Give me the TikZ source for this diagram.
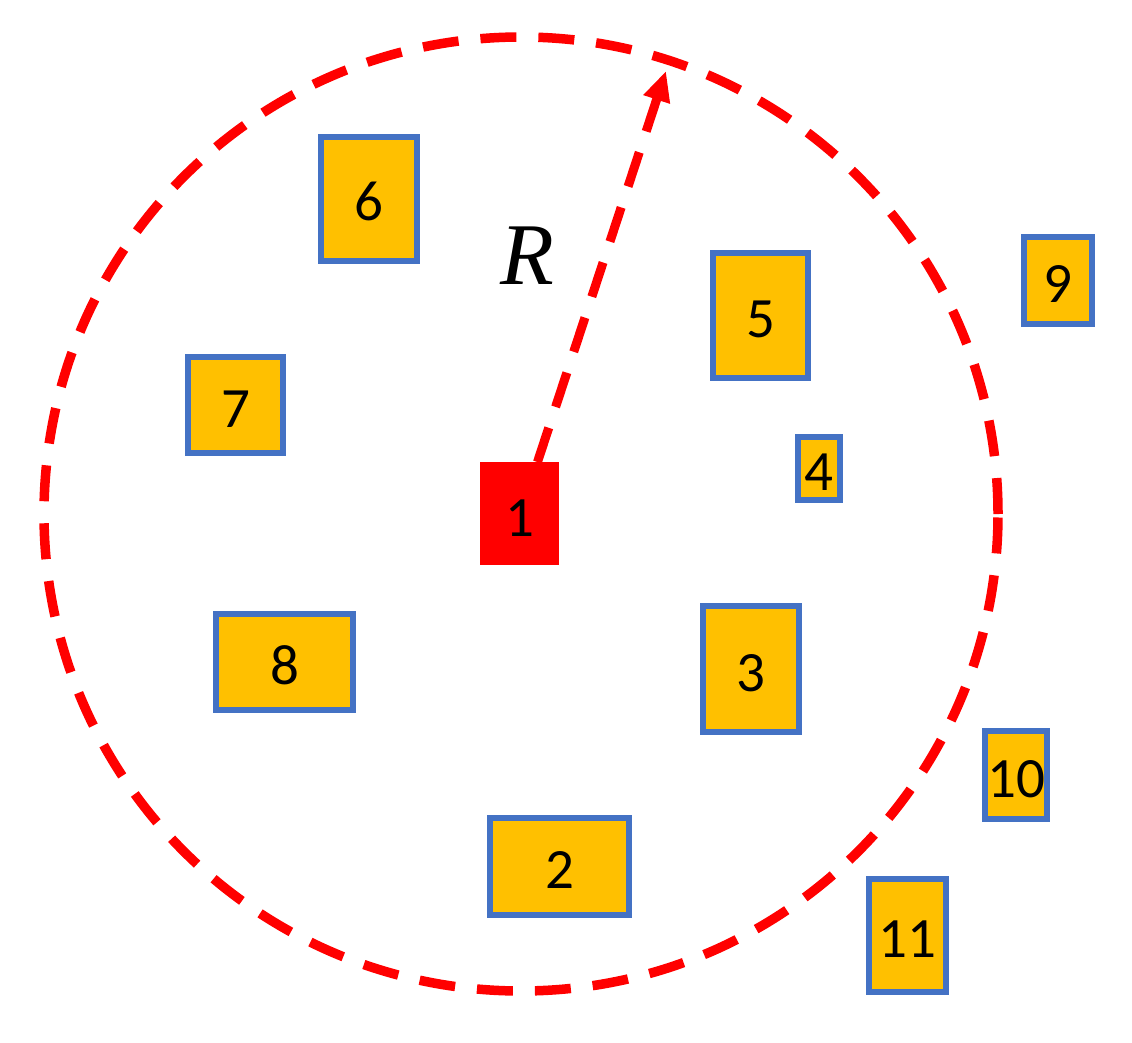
\documentclass[tikz,border=0pt]{standalone}
\usepackage{fontspec}
\setmainfont{Carlito}
\newfontfamily\rfont{Liberation Serif}
\usetikzlibrary{arrows.meta}

\definecolor{boxfill}{HTML}{FFC000}
\definecolor{boxline}{HTML}{4472C4}
\definecolor{hotred}{HTML}{FF0000}

\begin{document}
\begin{tikzpicture}[
    x=1pt, y=-1pt,
    dev/.style={draw=boxline, line width=6pt, fill=boxfill, inner sep=0pt, outer sep=0pt, text height=44pt, text depth=0pt, font=\fontsize{57}{57}\selectfont},
    src/.style={fill=hotred, inner sep=0pt, outer sep=0pt, text height=46pt, text depth=0pt, font=\fontsize{57}{57}\selectfont},
    rng/.style={draw=hotred, line width=9.5pt, dash pattern=on 36pt off 22pt},
    arr/.style={-{Triangle[length=30pt,width=26pt]}, draw=hotred, line width=9pt, dash pattern=on 36pt off 22pt}
]
\useasboundingbox (0,0) rectangle (1132,1043);

% coverage range
\node[rng, circle, minimum size=954pt, inner sep=0pt, outer sep=0pt] (range) at (521,514) {};

% devices
\node[src, minimum width=79pt, minimum height=103pt] (n1) at (519.5,513.5) {1};
\node[dev, minimum width=139pt, minimum height=97pt] (n2) at (559.5,866.5) {2};
\node[dev, minimum width=96pt, minimum height=126pt] (n3) at (751,669) {3};
\node[dev, minimum width=42pt, minimum height=63pt] (n4) at (819,468.5) {4};
\node[dev, minimum width=95pt, minimum height=125pt] (n5) at (760.5,315.5) {5};
\node[dev, minimum width=96pt, minimum height=124pt] (n6) at (369,199) {6};
\node[dev, minimum width=95pt, minimum height=96pt] (n7) at (235.5,405) {7};
\node[dev, minimum width=137pt, minimum height=96pt] (n8) at (284.5,662) {8};
\node[dev, minimum width=68pt, minimum height=87pt] (n9) at (1058,280.5) {9};
\node[dev, minimum width=62pt, minimum height=88pt] (n10) at (1016,775) {10};
\node[dev, minimum width=77pt, minimum height=113pt] (n11) at (907,935) {11};

% radius
\coordinate (rtip) at (666,71);
\draw[arr] ([xshift=18pt]n1.north) -- (rtip);
\node (rlbl) at (527,256) {\fontsize{88}{88}\selectfont\rfont\itshape R};
\end{tikzpicture}
\end{document}
